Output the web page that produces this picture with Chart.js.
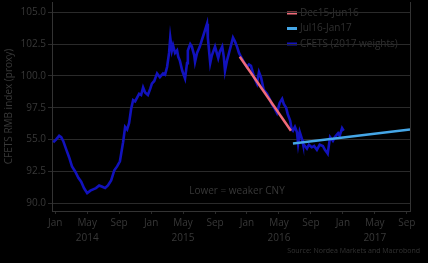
<!DOCTYPE html>
<html>
<head>
<meta charset="utf-8">
<script src="https://cdn.jsdelivr.net/npm/chart.js@4"></script>
<style>
  html, body { margin: 0; padding: 0; background: #000; }
  #wrap { width: 428px; height: 263px; }
</style>
</head>
<body>
<div id="wrap"><canvas id="chart" width="428" height="263"></canvas></div>
<script>
  // ===== Data =====
  // x = months since Jan 2014 (0 = Jan 2014)
  const cfetsMonths = [
    -0.25, 0.1, 0.5, 0.75, 1.0, 1.4, 1.75, 2.1, 2.5, 2.9, 3.25, 3.6, 4.0, 4.4, 4.75, 5.1, 5.5, 5.9,
    6.25, 6.6, 7.0, 7.4, 7.75, 8.1, 8.5, 8.75, 9.0, 9.25, 9.5, 9.75, 10.0, 10.25, 10.5, 10.75, 11.0,
    11.25, 11.6, 11.9, 12.1, 12.4, 12.75, 13.1, 13.5, 13.75, 14.0, 14.25, 14.4, 14.6, 14.75, 15.0,
    15.25, 15.4, 15.6, 15.9, 16.25, 16.5, 16.6, 16.9, 17.1, 17.4, 17.5, 17.75, 18.1, 18.4, 18.75,
    19.0, 19.1, 19.4, 19.6, 20.0, 20.4, 20.6, 20.9, 21.1, 21.25, 21.5, 21.75, 22.0, 22.25, 22.5,
    22.75, 23.0, 23.25, 23.6, 24.0, 24.25, 24.5, 24.9, 25.25, 25.5, 25.75, 26.1, 26.5, 26.9, 27.1,
    27.5, 27.75, 28.1, 28.4, 28.6, 28.9, 29.1, 29.4, 29.6, 29.75, 30.0, 30.25, 30.4, 30.6, 30.9,
    31.0, 31.25, 31.5, 31.75, 32.1, 32.4, 32.75, 33.1, 33.5, 33.75, 34.0, 34.1, 34.4, 34.75, 35.0,
    35.4, 35.6, 35.9, 36.1
  ];
  const cfetsValues = [
    94.8, 95.0, 95.3, 95.2, 94.9, 94.2, 93.6, 92.9, 92.5, 92.0, 91.7, 91.2, 90.8, 91.0, 91.1, 91.2, 91.4, 91.3,
    91.2, 91.4, 91.8, 92.6, 92.9, 93.3, 94.8, 96.0, 95.8, 96.3, 97.4, 98.1, 98.0, 98.3, 98.6, 98.5, 99.1,
    98.7, 98.5, 99.0, 99.4, 99.6, 100.2, 99.9, 100.2, 100.1, 100.7, 101.8, 103.0, 102.0, 102.4, 101.8,
    102.0, 101.5, 101.2, 100.4, 99.8, 101.0, 102.0, 102.5, 102.3, 101.6, 101.1, 101.8, 102.3, 102.9, 103.6,
    104.1, 103.0, 101.0, 101.6, 102.3, 101.4, 101.9, 102.3, 101.5, 100.4, 101.2, 101.8, 102.4, 103.0, 102.7,
    102.3, 101.8, 101.5, 101.1, 100.7, 100.9, 100.8, 99.9, 99.4, 100.3, 99.9, 98.9, 98.6, 98.1, 97.8,
    97.4, 97.1, 97.9, 98.2, 97.8, 97.5, 97.0, 96.5, 95.8, 95.7, 96.0, 95.6, 94.7, 95.6, 95.0,
    94.7, 94.5, 94.3, 94.6, 94.4, 94.5, 94.2, 94.6, 94.5, 94.2, 94.0, 93.9, 95.2, 94.9, 95.2,
    95.5, 95.3, 95.9, 95.7
  ];
  const trendDecJunMonths = [23.1, 29.5];
  const trendDecJunValues = [101.5, 95.7];
  const trendJulJanMonths = [29.75, 44.4];
  const trendJulJanValues = [94.7, 95.8];

  const seriesLabels = ['Dec15-Jun16', 'Jul16-Jan17', 'CFETS (2017 weights)'];

  const xTickMonths = [0, 4, 8, 12, 16, 20, 24, 28, 32, 36, 40, 44];
  const xTickLabels = ['Jan', ['May', '2014'], 'Sep', 'Jan', ['May', '2015'], 'Sep',
                       'Jan', ['May', '2016'], 'Sep', 'Jan', ['May', '2017'], 'Sep'];
  const yTickValues = [90, 92.5, 95, 97.5, 100, 102.5, 105];
  const yTickLabels = ['90.0', '92.5', '55.0', '97.5', '100.0', '102.5', '105.0'];

  const noteText = 'Lower = weaker CNY';
  const noteAt = { x: 22.75, y: 90.95 };
  const sourceText = 'Source: Nordea Markets and Macrobond';

  // ===== Helpers =====
  const toPoints = (xs, ys) => xs.map((x, i) => ({ x: x, y: ys[i] }));
  const FONT = '"Open Sans", "DejaVu Sans", sans-serif';
  const TEXT_COLOR = '#383838';
  const GRID_COLOR = '#2a2a2a';

  // legend + note + source + right border, drawn by hand
  const extrasPlugin = {
    id: 'extras',
    beforeDraw(chart) {
      const ctx = chart.ctx;
      const area = chart.chartArea;
      ctx.save();
      ctx.font = '10px ' + FONT;
      ctx.textBaseline = 'middle';
      ctx.textAlign = 'left';
      chart.data.datasets.forEach((ds, i) => {
        const y = area.top + 11 + i * 15.5;
        const x = area.right - 123;
        ctx.strokeStyle = ds.borderColor;
        ctx.lineWidth = 3;
        ctx.beginPath();
        ctx.moveTo(x, y);
        ctx.lineTo(x + 10, y);
        ctx.stroke();
        ctx.fillStyle = '#303030';
        ctx.fillText(ds.label, x + 13, y);
      });
      ctx.restore();
    },
    afterDraw(chart) {
      const ctx = chart.ctx;
      const area = chart.chartArea;
      const xs = chart.scales.x;
      const ys = chart.scales.y;
      ctx.save();
      // right border
      ctx.strokeStyle = '#333';
      ctx.lineWidth = 1;
      ctx.beginPath();
      ctx.moveTo(Math.round(area.right) + 0.5, area.top);
      ctx.lineTo(Math.round(area.right) + 0.5, area.bottom);
      ctx.stroke();
      // note
      ctx.font = '10px ' + FONT;
      ctx.fillStyle = TEXT_COLOR;
      ctx.textAlign = 'center';
      ctx.textBaseline = 'middle';
      ctx.fillText(noteText, xs.getPixelForValue(noteAt.x), ys.getPixelForValue(noteAt.y));
      // source
      ctx.font = '7px ' + FONT;
      ctx.fillStyle = '#333';
      ctx.textAlign = 'right';
      ctx.fillText(sourceText, chart.width - 8, chart.height - 12);
      ctx.restore();
    }
  };

  // ===== Chart =====
  const chart = new Chart(document.getElementById('chart'), {
    type: 'line',
    data: {
      datasets: [
        {
          label: seriesLabels[0],
          data: toPoints(trendDecJunMonths, trendDecJunValues),
          borderColor: '#f06a78',
          borderWidth: 2.5,
          pointRadius: 0
        },
        {
          label: seriesLabels[1],
          data: toPoints(trendJulJanMonths, trendJulJanValues),
          borderColor: '#45a6e6',
          borderWidth: 2.5,
          pointRadius: 0
        },
        {
          label: seriesLabels[2],
          data: toPoints(cfetsMonths, cfetsValues),
          borderColor: '#1212bc',
          borderWidth: 2.6,
          pointRadius: 0,
          tension: 0
        }
      ]
    },
    options: {
      responsive: false,
      animation: false,
      layout: { padding: { left: 0, right: 18, top: 2, bottom: 0 } },
      plugins: {
        legend: { display: false },
        tooltip: { enabled: false }
      },
      scales: {
        x: {
          type: 'linear',
          min: -0.4,
          max: 44.4,
          afterBuildTicks: (scale) => { scale.ticks = xTickMonths.map(v => ({ value: v })); },
          afterFit: (scale) => { scale.height = 52; scale.paddingLeft = 0; scale.paddingRight = 0; },
          grid: { display: true, drawOnChartArea: false, color: GRID_COLOR, tickLength: 3 },
          border: { display: true, color: '#333' },
          ticks: {
            autoSkip: false,
            maxRotation: 0,
            padding: 2,
            color: TEXT_COLOR,
            font: { family: FONT, size: 10, lineHeight: 1.45 },
            callback: (value) => {
              const i = xTickMonths.indexOf(value);
              return i >= 0 ? xTickLabels[i] : '';
            }
          }
        },
        y: {
          min: 89.4,
          max: 105.8,
          afterBuildTicks: (scale) => { scale.ticks = yTickValues.map(v => ({ value: v })); },
          afterFit: (scale) => { scale.width = 52; scale.paddingTop = 0; scale.paddingBottom = 0; },
          grid: { color: GRID_COLOR, tickLength: 4 },
          border: { display: true, color: '#333' },
          title: {
            display: true,
            text: 'CFETS RMB index (proxy)',
            color: TEXT_COLOR,
            font: { family: FONT, size: 10 },
            padding: { top: 3, bottom: 0 }
          },
          ticks: {
            padding: 2,
            color: TEXT_COLOR,
            font: { family: FONT, size: 10 },
            callback: (value) => {
              const i = yTickValues.indexOf(value);
              return i >= 0 ? yTickLabels[i] : '';
            }
          }
        }
      }
    },
    plugins: [extrasPlugin]
  });
</script>
</body>
</html>
